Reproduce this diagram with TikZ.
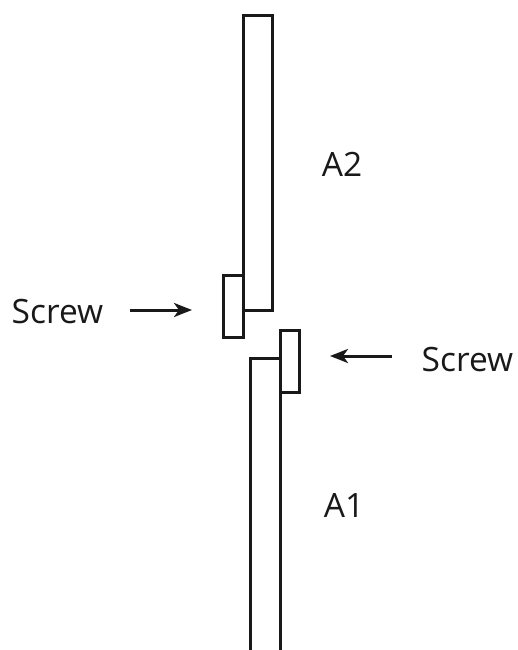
\documentclass[tikz,border=0pt]{standalone}
\usepackage{fontspec}
\setmainfont{Open Sans}
\usetikzlibrary{arrows.meta}
\tikzset{part/.style={draw=black!90,line width=3pt,fill=white,inner sep=0pt},
lbl/.style={font=\fontsize{33.5}{36}\selectfont,inner sep=0pt,text=black!90},
arr/.style={-{Stealth[length=18pt,width=14pt,inset=5pt]},line width=3pt,black!90}}
\begin{document}
\begin{tikzpicture}[x=1pt,y=-1pt]
\useasboundingbox (0,0) rectangle (518,650);
\coordinate (bl) at (250,650);\coordinate (br) at (280,650);
\coordinate (tl) at (250,358);\coordinate (tr) at (280,358);
\draw[line width=3pt,draw=black!90,line cap=butt] (bl) -- (tl) -- (tr) -- (br);
\node[part,minimum width=29.5pt,minimum height=295.5pt] (a2) at (258.2,162.8) {};
\node[part,minimum width=19.8pt,minimum height=62pt] (s1) at (233.6,306.7) {};
\node[part,minimum width=19.5pt,minimum height=62pt] (s2) at (290,361.7) {};
\node[lbl] (la2) at (342,164) {A2};
\node[lbl] (la1) at (344,505) {A1};
\node[lbl] (sl) at (57.5,312) {Screw};
\node[lbl] (sr) at (467.5,360) {Screw};
\coordinate (c1s) at (130,310);\coordinate (c1e) at (192,310);
\coordinate (c2s) at (392,356);\coordinate (c2e) at (330,356);
\draw[arr] (c1s) -- (c1e);
\draw[arr] (c2s) -- (c2e);
\end{tikzpicture}
\end{document}
